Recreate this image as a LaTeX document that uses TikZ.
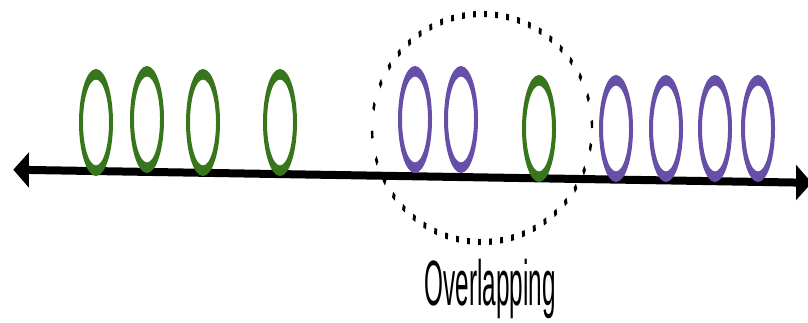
\documentclass[tikz,border=0pt]{standalone}
\usepackage{fontspec}
\newfontfamily\labelfont{Liberation Sans}
\usetikzlibrary{arrows.meta, shapes.geometric}
\definecolor{ringgreen}{HTML}{38761D}
\definecolor{ringpurple}{HTML}{674EA7}

\begin{document}
\begin{tikzpicture}[
    x=1pt, y=-1pt,
    ring/.style   = {ellipse, draw, line width=10.5pt, minimum width=79pt, minimum height=96.5pt, inner sep=0pt},
    axis/.style   = {{Triangle[length=42pt, width=33pt]}-{Triangle[length=42pt, width=33pt]}, line width=8pt},
    region/.style = {ellipse, draw, line width=6.2pt, dash pattern=on 7.5pt off 21.5pt, minimum width=579pt, minimum height=228pt, inner sep=0pt}
]
\useasboundingbox (0,0) rectangle (808,322);
% everything squeezed sideways, as in the original
\begin{scope}[transform canvas={xscale=0.38}, x=2.6316pt]
\coordinate (west) at (13,169.7);
\coordinate (east) at (812,182.8);
\draw[axis] (west) -- (east);
\foreach \n/\px/\py/\c in {g1/96/122.5/ringgreen, g2/147/119.5/ringgreen, g3/203/122.5/ringgreen, g4/280/122.5/ringgreen,
    p1/415/119.5/ringpurple, p2/461/119.5/ringpurple, g5/539/128.5/ringgreen,
    p3/616/128.5/ringpurple, p4/666/128.5/ringpurple, p5/715/128.5/ringpurple, p6/758/128.5/ringpurple}
  \node[ring, draw=\c] (\n) at (\px,\py) {};
\node[region] (overlap) at (482,128) {};
\node[font=\labelfont\fontsize{64}{70}\selectfont, anchor=base] (label) at (490,305) {Overlapping};
\end{scope}
\end{tikzpicture}
\end{document}
